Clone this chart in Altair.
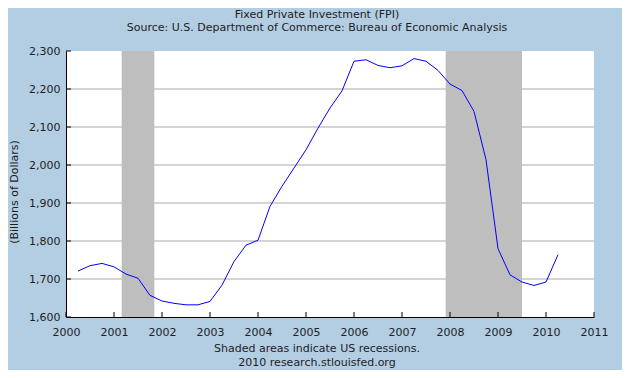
import altair as alt
import pandas as pd

# ---- text ----
title_lines = ["Fixed Private Investment (FPI)",
               "Source: U.S. Department of Commerce: Bureau of Economic Analysis"]
note_lines = ["Shaded areas indicate US recessions.", "2010 research.stlouisfed.org"]
y_title = "(Billions of Dollars)"

# ---- data (quarterly, billions of dollars) ----
quarters = [2000.25, 2000.5, 2000.75, 2001.0, 2001.25, 2001.5, 2001.75, 2002.0,
            2002.25, 2002.5, 2002.75, 2003.0, 2003.25, 2003.5, 2003.75, 2004.0,
            2004.25, 2004.5, 2004.75, 2005.0, 2005.25, 2005.5, 2005.75, 2006.0,
            2006.25, 2006.5, 2006.75, 2007.0, 2007.25, 2007.5, 2007.75, 2008.0,
            2008.25, 2008.5, 2008.75, 2009.0, 2009.25, 2009.5, 2009.75, 2010.0,
            2010.25]
fpi = [1721, 1735, 1741, 1732, 1713, 1702, 1657, 1642,
       1636, 1632, 1632, 1641, 1684, 1746, 1789, 1802,
       1891, 1944, 1992, 2040, 2097, 2150, 2195, 2273,
       2277, 2262, 2256, 2261, 2280, 2273, 2249, 2213,
       2196, 2141, 2014, 1780, 1711, 1692, 1683, 1692,
       1764]
rec_start = [2001.16, 2007.91]
rec_end = [2001.84, 2009.50]
x_ticks = [2000, 2001, 2002, 2003, 2004, 2005, 2006, 2007, 2008, 2009, 2010, 2011]
y_ticks = [1600, 1700, 1800, 1900, 2000, 2100, 2200, 2300]
grid_vals = [1700, 1800, 1900, 2000, 2100, 2200]

W, H = 528, 266
FONT = "DejaVu Sans"
TXT = "#1e1e1e"
BG = "#B3CDE3"

xs = alt.Scale(domain=[2000, 2011], nice=False, zero=False)
ys = alt.Scale(domain=[1600, 2300], nice=False, zero=False)

x_axis = alt.Axis(values=x_ticks, format="d", title=None, ticks=False, grid=False,
                  labelPadding=9, domainColor="black", domainWidth=1,
                  labelFont=FONT, labelFontSize=11, labelColor=TXT,
                  labelFlush=False, labelOverlap=False, zindex=1)
y_axis = alt.Axis(values=y_ticks, format=",.0f", title=None, ticks=False, grid=False,
                  labelPadding=6, domainColor="black", domainWidth=1,
                  labelFont=FONT, labelFontSize=11, labelColor=TXT,
                  labelFlush=False, labelOverlap=False, zindex=1)

grid = alt.Chart(pd.DataFrame({"g": grid_vals})).mark_rule(
    color="#A9A9A9", strokeWidth=1).encode(
    y=alt.Y("g:Q", scale=ys, axis=y_axis),
    x=alt.value(0), x2=alt.value(W))

rec = alt.Chart(pd.DataFrame({"s": rec_start, "e": rec_end})).mark_rect(
    color="#BEBEBE", opacity=1).encode(
    x=alt.X("s:Q", scale=xs, axis=x_axis), x2="e:Q",
    y=alt.value(0), y2=alt.value(H))

line = alt.Chart(pd.DataFrame({"q": quarters, "v": fpi})).mark_line(
    color="#0000FF", strokeWidth=1).encode(
    x=alt.X("q:Q", scale=xs, axis=x_axis),
    y=alt.Y("v:Q", scale=ys, axis=y_axis))

xt = alt.Chart(pd.DataFrame({"t": x_ticks})).mark_rule(color="black", strokeWidth=1).encode(
    x=alt.X("t:Q", scale=xs, axis=x_axis), y=alt.value(H), y2=alt.value(H - 5))
yt = alt.Chart(pd.DataFrame({"t": y_ticks})).mark_rule(color="black", strokeWidth=1).encode(
    y=alt.Y("t:Q", scale=ys, axis=y_axis), x=alt.value(0), x2=alt.value(5))


def text_layer(txt, x, y, **kw):
    return alt.Chart(pd.DataFrame({"t": [txt]})).mark_text(
        font=FONT, fontSize=11, color=TXT, align="center", **kw).encode(
        x=alt.value(x), y=alt.value(y), text="t:N")


cx = 251
texts = [
    text_layer(title_lines[0], cx, -33, baseline="alphabetic"),
    text_layer(title_lines[1], cx, -20, baseline="alphabetic"),
    text_layer(note_lines[0], cx, 301, baseline="alphabetic"),
    text_layer(note_lines[1], cx, 315, baseline="alphabetic"),
    text_layer(y_title, -51, 141, baseline="middle", angle=270),
]

chart = alt.layer(grid, rec, line, xt, yt, *texts).properties(
    width=W, height=H,
    padding={"left": 58, "top": 43, "right": 28, "bottom": 53},
    autosize=alt.AutoSizeParams(type="none"),
    background=BG,
).configure_view(fill="white", strokeWidth=0)

chart.save("out.html", embed_options={"renderer": "svg", "actions": False})
